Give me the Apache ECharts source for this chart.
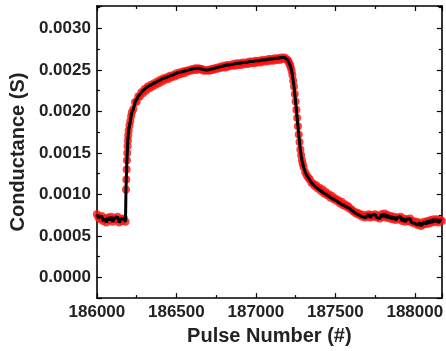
<!DOCTYPE html>
<html>
<head>
<meta charset="utf-8">
<script src="https://cdn.jsdelivr.net/npm/echarts@6/dist/echarts.min.js"></script>
<style>html,body{margin:0;padding:0;background:#fff}#c{width:446px;height:351px}</style>
</head>
<body>
<div id="c"></div>
<script>
const xTitle = 'Pulse Number (#)';
const yTitle = 'Conductance (S)';
const xTicks = [186000, 186500, 187000, 187500, 188000];
const yTicks = ['0.0000','0.0005','0.0010','0.0015','0.0020','0.0025','0.0030'];

const pulses = [
186000,186010,186020,186030,186040,186050,186060,186070,186080,186090,
186100,186110,186120,186130,186140,186150,186160,186170,186180,
186183,186185,186187,186189,186191,186193,186195,186197,186200,186205,
186210,186215,186220,186230,186240,186250,186260,186270,186280,186290,186300,
186310,186320,186330,186340,186350,186360,186370,186380,186390,186400,
186410,186420,186430,186440,186450,186460,186470,186480,186490,186500,
186510,186520,186530,186540,186550,186560,186570,186580,186590,186600,
186610,186620,186630,186640,186650,186660,186670,186680,186690,186700,
186710,186720,186730,186740,186750,186760,186770,186780,186790,186800,
186810,186820,186830,186840,186850,186860,186870,186880,186890,186900,
186910,186920,186930,186940,186950,186960,186970,186980,186990,187000,
187010,187020,187030,187040,187050,187060,187070,187080,187090,187100,
187110,187120,187130,187140,187150,187160,187170,187180,187190,187200,
187205,187210,187215,187220,187225,187230,187235,187240,187245,187250,
187255,187260,187265,187270,187275,187280,187285,187290,187295,187300,
187310,187320,187330,187340,187350,187360,187370,187380,187390,187400,
187410,187420,187430,187440,187450,187460,187470,187480,187490,187500,
187510,187520,187530,187540,187550,187560,187570,187580,187590,187600,
187610,187620,187630,187640,187650,187660,187670,187680,187690,187700,
187710,187720,187730,187740,187750,187760,187770,187780,187790,187800,
187810,187820,187830,187840,187850,187860,187870,187880,187890,187900,
187910,187920,187930,187940,187950,187960,187970,187980,187990,188000,
188010,188020,188030,188040,188050,188060,188070,188080,188090,188100,
188110,188120,188130,188140,188150,188160,188170
];

const conductance = [
0.00076,0.00072,0.00070,0.00074,0.00068,0.00071,0.00066,0.00072,0.00069,0.00073,
0.00067,0.00071,0.00070,0.00073,0.00066,0.00070,0.00068,0.00071,0.00067,
0.00106,0.00118,0.00130,0.00141,0.00150,0.00158,0.00165,0.00171,0.00177,0.00183,
0.00188,0.00194,0.00199,0.00203,0.00211,0.00212,0.00218,0.00218,0.00223,0.00222,0.00227,
0.00225,0.00230,0.00228,0.00232,0.00230,0.00234,0.00232,0.00236,0.00234,0.00238,
0.00236,0.00240,0.00238,0.00241,0.00239,0.00243,0.00241,0.00244,0.00242,0.00246,
0.00244,0.00247,0.00245,0.00248,0.00246,0.00249,0.00248,0.00250,0.00249,0.00251,
0.00250,0.00252,0.00250,0.00252,0.00251,0.00251,0.00249,0.00250,0.00249,0.00250,
0.00249,0.00251,0.00250,0.00252,0.00251,0.00253,0.00252,0.00254,0.00253,0.00255,
0.00253,0.00256,0.00254,0.00256,0.00255,0.00257,0.00255,0.00258,0.00256,0.00258,
0.00256,0.00259,0.00257,0.00259,0.00257,0.00260,0.00258,0.00260,0.00258,0.00261,
0.00259,0.00261,0.00259,0.00262,0.00260,0.00262,0.00260,0.00263,0.00261,0.00263,
0.00261,0.00264,0.00262,0.00264,0.00262,0.00265,0.00263,0.00265,0.00263,0.00262,
0.00260,0.00258,0.00256,0.00253,0.00249,0.00244,0.00237,0.00230,0.00221,0.00212,
0.00202,0.00192,0.00182,0.00172,0.00163,0.00154,0.00147,0.00141,0.00137,0.00133,
0.00127,0.00123,0.00120,0.00118,0.00114,0.00113,0.00110,0.00111,0.00107,0.00108,
0.00104,0.00106,0.00101,0.00103,0.00099,0.00100,0.00096,0.00098,0.00094,0.00095,
0.00092,0.00093,0.00089,0.00091,0.00087,0.00088,0.00085,0.00086,0.00083,0.00082,
0.00080,0.00079,0.00077,0.00078,0.00075,0.00076,0.00073,0.00075,0.00072,0.00074,
0.00076,0.00072,0.00075,0.00073,0.00076,0.00072,0.00074,0.00071,0.00076,0.00073,
0.00077,0.00072,0.00075,0.00071,0.00074,0.00070,0.00073,0.00069,0.00072,0.00070,
0.00073,0.00068,0.00071,0.00067,0.00070,0.00068,0.00071,0.00066,0.00068,0.00065,
0.00067,0.00063,0.00066,0.00062,0.00064,0.00067,0.00064,0.00068,0.00065,0.00069,
0.00066,0.00070,0.00067,0.00070,0.00066,0.00069,0.00068
];

const points = pulses.map((p, i) => [p, conductance[i]]);
const FONT = '"Liberation Sans", Arial, sans-serif';

const chart = echarts.init(document.getElementById('c'), null, {renderer: 'canvas'});
const axisLine = {show: true, onZero: false, lineStyle: {color: '#000', width: 1.6}};
const tick = {show: true, inside: true, length: 5, lineStyle: {color: '#000', width: 1.2}};
const minor = {show: true, splitNumber: 2, length: 3, lineStyle: {color: '#000', width: 1.2}};

chart.setOption({
  animation: false,
  backgroundColor: '#fff',
  grid: {left: 95, right: 3, top: 6, bottom: 47, containLabel: false},
  xAxis: [{
    type: 'value', min: 186000, max: 188170, interval: 500,
    name: xTitle, nameLocation: 'middle', nameGap: 27,
    nameTextStyle: {fontFamily: FONT, fontWeight: 'bold', fontSize: 20, color: '#222'},
    axisLine, axisTick: tick, minorTick: minor,
    axisLabel: {fontFamily: FONT, fontWeight: 'bold', fontSize: 17, color: '#222', margin: 6,
      showMaxLabel: false,
      formatter: v => xTicks.indexOf(Math.round(v)) >= 0 ? String(Math.round(v)) : ''},
    splitLine: {show: false}
  }, {
    type: 'value', position: 'top', min: 186000, max: 188170, interval: 500,
    axisLine, axisTick: tick, minorTick: minor, axisLabel: {show: false}, splitLine: {show: false}
  }],
  yAxis: [{
    type: 'value', min: -0.00025, max: 0.00327, splitNumber: 7,
    name: yTitle, nameLocation: 'middle', nameGap: 65, nameRotate: 90,
    nameTextStyle: {fontFamily: FONT, fontWeight: 'bold', fontSize: 20, color: '#222'},
    axisLine, axisTick: tick, minorTick: minor,
    axisLabel: {fontFamily: FONT, fontWeight: 'bold', fontSize: 17, color: '#222', margin: 6,
      showMinLabel: false, showMaxLabel: false,
      formatter: v => { const s = (Math.abs(v) < 1e-12 ? 0 : v).toFixed(4); return yTicks.indexOf(s) >= 0 ? s : ''; }},
    splitLine: {show: false}
  }, {
    type: 'value', position: 'right', min: -0.00025, max: 0.00327, splitNumber: 7,
    axisLine, axisTick: tick, minorTick: minor, axisLabel: {show: false}, splitLine: {show: false}
  }],
  series: [{
    type: 'scatter', xAxisIndex: 0, yAxisIndex: 0, data: points,
    symbol: 'circle', symbolSize: 8, itemStyle: {color: '#ff1010'}, z: 2
  }, {
    type: 'line', xAxisIndex: 0, yAxisIndex: 0, data: points,
    showSymbol: false, symbol: 'none', lineStyle: {color: '#000', width: 3}, z: 3
  }]
});
</script>
</body>
</html>
